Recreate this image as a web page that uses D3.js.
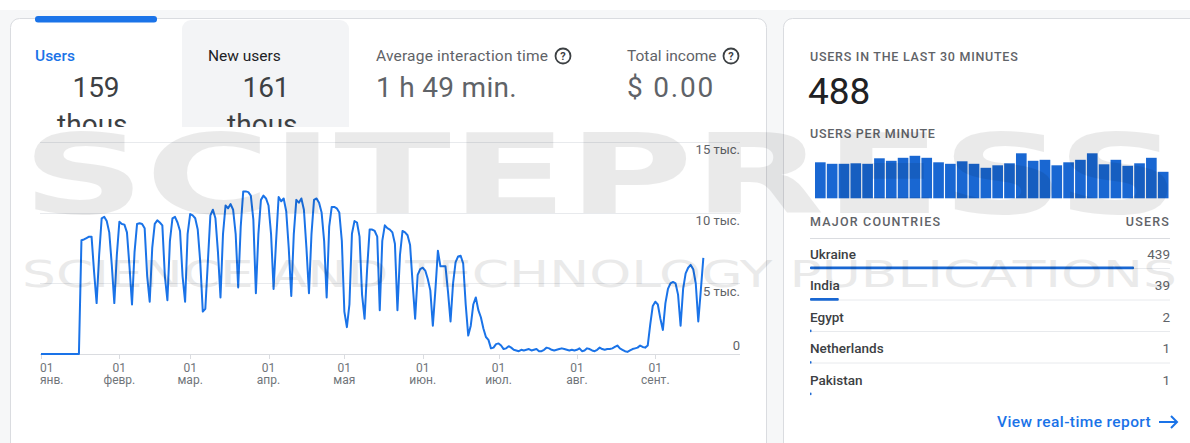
<!DOCTYPE html>
<html><head><meta charset="utf-8">
<script src="https://cdn.jsdelivr.net/npm/d3@7"></script>
<style>
html,body{margin:0;padding:0;background:#fff;overflow:hidden;}
svg{display:block;font-family:Roboto,"Noto Sans",Arial,sans-serif;}
</style></head><body>
<svg id="c" width="1190" height="443"></svg>
<script>
// ---------- DATA ----------
const startDate = "2022-01-01";
// daily users from 1 Jan to 20 Sep
const dailyUsers = [
  0,0,0,0,0,0,0,0,0,0,0,0,0,0,0,0,
  8050,8100,8200,8300,8300,5800,3600,
  7000,9600,9700,9400,8600,6300,3600,
  7000,9350,9200,9150,8600,6200,3500,
  7200,9200,9250,9200,8900,5500,3700,
  7500,9200,9450,9300,9100,5500,3800,
  8000,9600,9700,9300,8700,5500,3700,
  8500,9900,9800,9600,8800,6500,3000,
  3200,6500,9800,10200,9600,7200,4000,
  8500,10500,10300,10600,10200,8500,4700,
  9000,11500,11500,11450,11200,9500,4300,
  8500,10900,11200,11000,10500,8500,4600,
  8000,11100,10800,11000,10100,7500,4100,
  8500,10900,10700,11000,10200,7500,4300,
  8500,10900,11000,10700,10000,8000,4000,
  9000,10400,10400,10300,10000,8000,3000,
  1900,3500,8500,9400,9300,8300,4200,
  2500,6000,8800,8800,8700,8300,3100,
  8000,9100,8900,8800,8600,7800,3100,
  7000,8700,8600,8400,7700,5000,2500,
  5600,6000,6100,5900,5300,4500,2000,
  4500,7300,6200,6200,6200,4400,2300,
  5000,6500,6900,6950,6400,3500,1300,
  2000,3500,4000,3100,2600,1800,1200,
  1000,400,450,700,750,600,350,
  400,550,450,300,250,200,300,
  250,300,350,250,300,350,200,
  200,300,450,400,300,250,300,
  350,400,350,300,250,300,250,
  300,400,200,250,400,350,250,
  200,300,450,350,300,350,350,
  400,500,600,400,300,200,150,
  250,350,400,450,600,500,450,
  600,2100,3400,3700,3500,2500,1700,
  3600,4600,5000,5100,5000,4200,2000,
  4600,5700,6100,6300,6000,5000,2300,
  4500,6800
];
const yTicks = [0, 5000, 10000, 15000];
const yTickLabels = ["0", "5 тыс.", "10 тыс.", "15 тыс."];
const monthTicks = ["2022-01-01","2022-02-01","2022-03-01","2022-04-01","2022-05-01","2022-06-01","2022-07-01","2022-08-01","2022-09-01"];
const monthLabels = ["янв.","февр.","мар.","апр.","мая","июн.","июл.","авг.","сент."];
const dayLabel = "01";

const metricNames = ["Users","New users","Average interaction time","Total income"];
const metricValues = ["159","161","1 h 49 min.","$ 0.00"];
const metricUnits = ["thous.","thous.","",""];

const realtimeTitle = "USERS IN THE LAST 30 MINUTES";
const usersLast30 = 488;
const perMinuteTitle = "USERS PER MINUTE";
const usersPerMinute = [72,69,69,70,69,80,75,81,85,81,72,69,74,69,61,66,70,90,75,77,66,72,77,90,68,77,65,70,81,53];
const countries = ["Ukraine","India","Egypt","Netherlands","Pakistan"];
const countryUsers = [439,39,2,1,1];
const linkText = "View real-time report";

// ---------- DRAW ----------
const svg = d3.select("#c");
const BLUE = "#1a73e8";

svg.append("rect").attr("width",1190).attr("height",443).attr("fill","#ffffff");
svg.append("rect").attr("x",0).attr("y",10).attr("width",1190).attr("height",433).attr("fill","#f6f7f8");
svg.append("rect").attr("x",10.5).attr("y",18.5).attr("width",756).attr("height",470).attr("rx",9)
  .attr("fill","#fff").attr("stroke","#dadce0");
svg.append("rect").attr("x",783.5).attr("y",18.5).attr("width",430).attr("height",470).attr("rx",9)
  .attr("fill","#fff").attr("stroke","#dadce0");

// ----- metric tabs -----
const defs = svg.append("defs");
defs.append("clipPath").attr("id","mclip").append("rect")
  .attr("x",0).attr("y",0).attr("width",780).attr("height",127);
const tabs = svg.append("g").attr("clip-path","url(#mclip)");
tabs.append("rect").attr("x",182).attr("y",20).attr("width",167).attr("height",120).attr("rx",9).attr("fill","#f3f4f6");
tabs.append("rect").attr("x",35).attr("y",16).attr("width",122).attr("height",6.5).attr("rx",3).attr("fill",BLUE);

const labelX = [35, 208, 376, 627];
const valueX = [96, 266, 376, 627];
const valueAnchor = ["middle","middle","start","start"];
const labelColor = [BLUE, "#202124", "#5f6368", "#5f6368"];
const valueSpacing = [0, 0, 0.3, 1.8];
metricNames.forEach((m,i)=>{
  tabs.append("text").attr("x",labelX[i]).attr("y",61).attr("font-size",15.5)
    .attr("letter-spacing",i===2?0.2:0)
    .attr("font-weight",i===0?500:400).attr("fill",labelColor[i]).text(m);
  tabs.append("text").attr("x",valueX[i]).attr("y",97).attr("font-size",28)
    .attr("letter-spacing",valueSpacing[i])
    .attr("text-anchor",valueAnchor[i]).attr("fill",i<2?"#3c4043":"#5f6368").text(metricValues[i]);
  if (metricUnits[i]) {
    tabs.append("text").attr("x",valueX[i]).attr("y",134).attr("font-size",28)
      .attr("text-anchor","middle").attr("fill","#3c4043").text(metricUnits[i]);
  }
});
// help icons
[563, 731].forEach(cx=>{
  const g = tabs.append("g");
  g.append("circle").attr("cx",cx).attr("cy",56).attr("r",7.5).attr("fill","none").attr("stroke","#3c4043").attr("stroke-width",1.8);
  g.append("text").attr("x",cx).attr("y",60).attr("text-anchor","middle").attr("font-size",11).attr("font-weight",700).attr("fill","#3c4043").text("?");
});

// ----- main line chart -----
const parse = d3.utcParse("%Y-%m-%d");
const t0 = parse(startDate);
const series = dailyUsers.map((v,i)=>({date:d3.utcDay.offset(t0,i), v}));
const x = d3.scaleUtc().domain([t0, series[series.length-1].date]).range([41, 41 + 2.528*(dailyUsers.length-1)]);
const y = d3.scaleLinear().domain([0,15000]).range([354, 141.9]);

const chart = svg.append("g");
chart.selectAll("line.grid").data(yTicks).join("line").attr("class","grid")
  .attr("x1",40).attr("x2",740).attr("y1",d=>Math.round(y(d))+0.5).attr("y2",d=>Math.round(y(d))+0.5)
  .attr("stroke",(d)=>d===0?"#dadce0":"#e8eaed").attr("stroke-width",1);
chart.selectAll("text.ylab").data(yTicks).join("text").attr("class","ylab")
  .attr("x",740).attr("y",d=>d===0? y(d)-4 : y(d)+12.5).attr("text-anchor","end")
  .attr("font-size",13).attr("fill","#5f6368").text((d,i)=>yTickLabels[i]);

const mt = monthTicks.map(parse);
chart.selectAll("line.tick").data(mt).join("line").attr("class","tick")
  .attr("x1",d=>Math.round(x(d))+0.5).attr("x2",d=>Math.round(x(d))+0.5).attr("y1",354).attr("y2",359)
  .attr("stroke","#dadce0");
const xl = chart.selectAll("g.xlab").data(mt).join("g").attr("class","xlab");
xl.append("text").attr("x",(d,i)=>i===0?x(d)-1:x(d)).attr("y",372).attr("text-anchor",(d,i)=>i===0?"start":"middle")
  .attr("font-size",12).attr("fill","#70757a").text(dayLabel);
xl.append("text").attr("x",(d,i)=>i===0?x(d)-1:x(d)).attr("y",384).attr("text-anchor",(d,i)=>i===0?"start":"middle")
  .attr("font-size",12).attr("fill","#70757a").text((d,i)=>monthLabels[i]);

const line = d3.line().x(d=>x(d.date)).y(d=>y(d.v));
chart.append("path").datum(series).attr("d",line).attr("fill","none")
  .attr("stroke",BLUE).attr("stroke-width",2).attr("stroke-linejoin","round");

// ----- realtime card -----
const rt = svg.append("g");
rt.append("text").attr("x",810).attr("y",60.5).attr("font-size",12.5).attr("font-weight",500)
  .attr("letter-spacing",0.75).attr("fill","#5f6368").text(realtimeTitle);
rt.append("text").attr("x",808).attr("y",104).attr("font-size",37).attr("fill","#202124").text(usersLast30);
rt.append("text").attr("x",810).attr("y",138).attr("font-size",12.5).attr("font-weight",500)
  .attr("letter-spacing",0.75).attr("fill","#5f6368").text(perMinuteTitle);

const bx = d3.scaleBand().domain(d3.range(usersPerMinute.length)).range([815,1168.5]).paddingInner(0.1);
const by = d3.scaleLinear().domain([0,90]).range([198.3,153.3]);
rt.selectAll("rect.bar").data(usersPerMinute).join("rect").attr("class","bar")
  .attr("x",(d,i)=>bx(i)).attr("width",bx.bandwidth()).attr("y",d=>by(d)).attr("height",d=>198.3-by(d))
  .attr("fill","#1967d2");

rt.append("text").attr("x",810).attr("y",226).attr("font-size",12.5).attr("font-weight",500)
  .attr("letter-spacing",1.2).attr("fill","#5f6368").text("MAJOR COUNTRIES");
rt.append("text").attr("x",1170).attr("y",226).attr("text-anchor","end").attr("font-size",12.5).attr("font-weight",500)
  .attr("letter-spacing",1.2).attr("fill","#5f6368").text("USERS");
rt.append("line").attr("x1",810).attr("x2",1170).attr("y1",238.5).attr("y2",238.5).attr("stroke","#dadce0");

const rowY = d3.scalePoint().domain(countries).range([254,380]);
const cw = d3.scaleLinear().domain([0,439]).range([0,324]);
countries.forEach((c,i)=>{
  const cy = rowY(c);
  rt.append("text").attr("x",810).attr("y",cy+4.5).attr("font-size",13.5).attr("font-weight",500).attr("fill","#3c4043").text(c);
  rt.append("text").attr("x",1170).attr("y",cy+4.5).attr("text-anchor","end").attr("font-size",13.5).attr("fill","#5f6368").text(countryUsers[i]);
  if (i < countries.length-1)
    rt.append("line").attr("x1",810).attr("x2",1170).attr("y1",cy+14.5).attr("y2",cy+14.5).attr("stroke","#e8eaed");
  rt.append("rect").attr("x",810).attr("y",cy+12.5).attr("width",Math.max(1.5,cw(countryUsers[i]))).attr("height",2.8)
    .attr("rx",1).attr("fill","#1967d2");
});

rt.append("text").attr("x",997).attr("y",427).attr("font-size",15.5).attr("font-weight",500)
  .attr("letter-spacing",0.4).attr("fill",BLUE).text(linkText);
rt.append("path").attr("d","M1159 422 H1177 M1171 416 L1177 422 L1171 428").attr("fill","none")
  .attr("stroke",BLUE).attr("stroke-width",2);

// ----- watermark overlay -----
const wm = svg.append("g").attr("opacity",0.08).attr("pointer-events","none");
wm.append("text").attr("x",22).attr("y",213).attr("font-family","DejaVu Sans").attr("font-weight","bold")
  .attr("font-size",110).attr("textLength",1158).attr("lengthAdjust","spacingAndGlyphs").attr("fill","#000").text("SCITEPRESS");
wm.append("text").attr("x",22).attr("y",287).attr("font-family","DejaVu Sans")
  .attr("font-size",37).attr("textLength",1155).attr("lengthAdjust","spacingAndGlyphs").attr("fill","#000")
  .text("SCIENCE AND TECHNOLOGY PUBLICATIONS");
</script>
</body></html>
